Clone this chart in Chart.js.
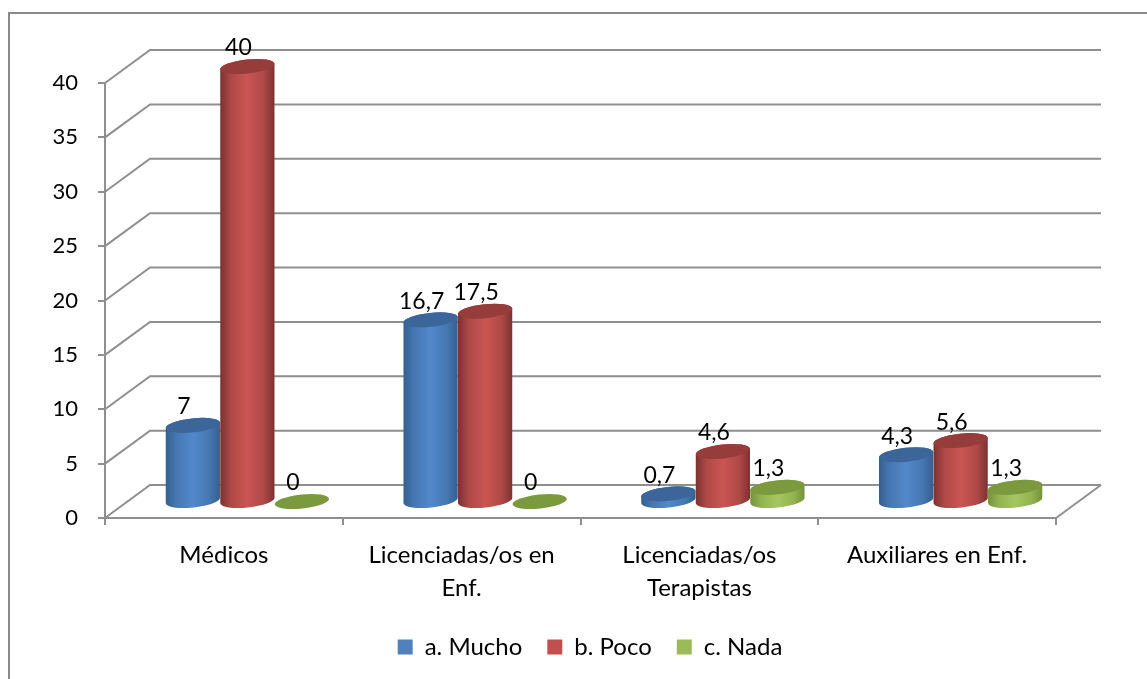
<!DOCTYPE html>
<html lang="es">
<head>
<meta charset="utf-8">
<title>Gráfico</title>
<style>
  html, body { margin: 0; padding: 0; background: #fff; }
  canvas { display: block; }
</style>
<script src="https://cdn.jsdelivr.net/npm/chart.js@4/dist/chart.umd.min.js"></script>
</head>
<body>
<canvas id="grafico" width="1147" height="679"></canvas>
<script>
const categorias = ["Médicos", ["Licenciadas/os en", "Enf."], ["Licenciadas/os", "Terapistas"], "Auxiliares en Enf."];
const mucho = [7, 16.7, 0.7, 4.3];
const poco = [40, 17.5, 4.6, 5.6];
const nada = [0, 0, 1.3, 1.3];

const FONT = "Lato";
const GRIS = "#8f8f8f";
// profundidad del piso 3D en pixeles
const DEPTH_X = 45;
const DEPTH_Y = 33;
const BAR_X = 23.5;
const TILT = -6 * Math.PI / 180;
const SERIE_ARRIBA = 1; // la roja se dibuja encima de las otras

// colores de cada cilindro: borde, medio, centro y tapa
const TONOS = {
  "a. Mucho": ["#34608f", "#4677b2", "#5189cb", "#3c6699"],
  "b. Poco": ["#7a3230", "#ae4947", "#cb5552", "#963c3a"],
  "c. Nada": ["#74923b", "#93b350", "#a6c65f", "#7b9a3e"],
};

class CylinderElement extends Chart.BarElement {
  draw(ctx) {
    const { x, y, base, width } = this.getProps(["x", "y", "base", "width"]);
    const tonos = TONOS[this.options.serie] || TONOS["a. Mucho"];
    const cx = x + BAR_X;
    const topY = y - DEPTH_Y / 2;
    const baseY = base - DEPTH_Y / 2;
    const rx = width / 2;
    const ry = 7;

    ctx.save();
    if (baseY - topY > 0.5) {
      const grad = ctx.createLinearGradient(cx - rx, 0, cx + rx, 0);
      grad.addColorStop(0, tonos[0]);
      grad.addColorStop(0.2, tonos[1]);
      grad.addColorStop(0.5, tonos[2]);
      grad.addColorStop(0.8, tonos[1]);
      grad.addColorStop(1, tonos[0]);
      ctx.fillStyle = grad;
      ctx.beginPath();
      ctx.ellipse(cx, baseY, rx, ry, TILT, Math.PI, 0, true);
      ctx.ellipse(cx, topY, rx, ry, TILT, 0, Math.PI, true);
      ctx.closePath();
      ctx.fill();
    }
    ctx.fillStyle = tonos[3];
    ctx.beginPath();
    ctx.ellipse(cx, topY, rx, ry, TILT, 0, Math.PI * 2);
    ctx.fill();
    ctx.restore();
  }
}
CylinderElement.id = "cylinder";
CylinderElement.defaults = { ...Chart.BarElement.defaults, serie: "" };

class CylinderController extends Chart.BarController {}
CylinderController.id = "cylinder";
CylinderController.defaults = { ...Chart.BarController.defaults, dataElementType: "cylinder" };
CylinderController.overrides = Chart.BarController.overrides;

Chart.register(CylinderElement, CylinderController);

// marco, paredes y piso
const paredes = {
  id: "paredes",
  beforeDraw(chart) {
    const { ctx } = chart;
    ctx.save();
    ctx.strokeStyle = "#8a8a8a";
    ctx.lineWidth = 2;
    ctx.beginPath();
    ctx.moveTo(9, chart.height);
    ctx.lineTo(9, 13);
    ctx.lineTo(chart.width, 13);
    ctx.stroke();
    ctx.restore();
  },
  beforeDatasetsDraw(chart) {
    const { ctx, chartArea, scales } = chart;
    ctx.save();
    ctx.strokeStyle = GRIS;
    ctx.lineWidth = 2;
    scales.y.ticks.forEach((tick) => {
      const py = scales.y.getPixelForValue(tick.value);
      ctx.beginPath();
      ctx.moveTo(chartArea.left, py);
      ctx.lineTo(chartArea.left + DEPTH_X, py - DEPTH_Y);
      ctx.lineTo(chartArea.right + DEPTH_X, py - DEPTH_Y);
      ctx.stroke();
    });
    // borde derecho del piso
    ctx.beginPath();
    ctx.moveTo(chartArea.right, chartArea.bottom);
    ctx.lineTo(chartArea.right + DEPTH_X, chartArea.bottom - DEPTH_Y);
    ctx.stroke();
    ctx.restore();
  },
  beforeDatasetDraw(chart, args) {
    if (args.index === SERIE_ARRIBA) return false;
  },
  afterDatasetsDraw(chart) {
    const { ctx } = chart;
    chart.getDatasetMeta(SERIE_ARRIBA).controller.draw();
    ctx.save();
    ctx.fillStyle = "#000";
    ctx.font = "23px " + FONT;
    ctx.textAlign = "center";
    ctx.textBaseline = "middle";
    chart.data.datasets.forEach((ds, i) => {
      chart.getDatasetMeta(i).data.forEach((bar, j) => {
        const texto = String(ds.data[j]).replace(".", ",");
        ctx.fillText(texto, bar.x + BAR_X - 9, bar.y - DEPTH_Y / 2 - 18.5);
      });
    });
    ctx.restore();
  },
};

// la leyenda del original no queda centrada en el lienzo
const moverLeyenda = {
  id: "moverLeyenda",
  beforeDraw(chart) {
    const legend = chart.legend;
    if (!legend || legend._movida) return;
    legend.left += 62;
    legend.right += 62;
    legend.top -= 10;
    legend.bottom -= 10;
    legend._movida = true;
  },
};

new Chart(document.getElementById("grafico"), {
  type: "cylinder",
  data: {
    labels: categorias,
    datasets: [
      { label: "a. Mucho", data: mucho, backgroundColor: "#4f81bd", serie: "a. Mucho", clip: false },
      { label: "b. Poco", data: poco, backgroundColor: "#c0504d", serie: "b. Poco", clip: false },
      { label: "c. Nada", data: nada, backgroundColor: "#9bbb59", serie: "c. Nada", clip: false },
    ],
  },
  options: {
    responsive: false,
    animation: false,
    categoryPercentage: 0.688,
    barPercentage: 1,
    layout: { padding: { top: 83, right: 91, left: 0, bottom: 0 } },
    plugins: {
      tooltip: { enabled: false },
      legend: {
        position: "bottom",
        labels: {
          boxWidth: 15,
          boxHeight: 15,
          padding: 25,
          color: "#000",
          font: { family: FONT, size: 24 },
        },
      },
    },
    scales: {
      x: {
        afterFit: (scale) => { scale.height = 102; },
        border: { color: GRIS, width: 2 },
        grid: { drawOnChartArea: false, color: GRIS, lineWidth: 2, tickLength: 7 },
        ticks: {
          autoSkip: false,
          maxRotation: 0,
          padding: 14,
          color: "#000",
          font: { family: FONT, size: 24, lineHeight: 1.375 },
        },
      },
      y: {
        min: 0,
        max: 40,
        afterFit: (scale) => { scale.width = 105; },
        border: { color: GRIS, width: 2 },
        grid: { drawOnChartArea: false, color: GRIS, lineWidth: 2, tickLength: 7 },
        ticks: {
          stepSize: 5,
          padding: 20,
          color: "#000",
          font: { family: FONT, size: 22 },
        },
      },
    },
  },
  plugins: [paredes, moverLeyenda],
});
</script>
</body>
</html>
